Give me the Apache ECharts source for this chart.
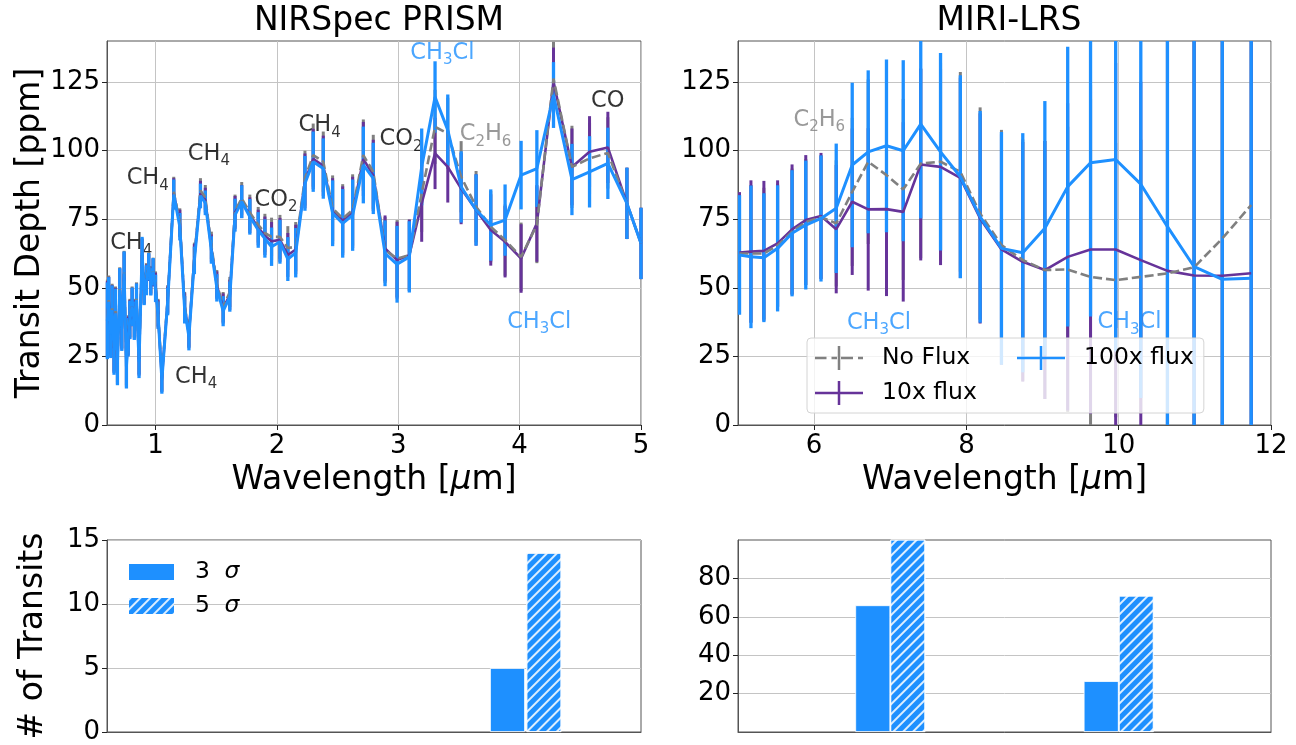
<!DOCTYPE html>
<html><head><meta charset="utf-8">
<script src="https://cdn.jsdelivr.net/npm/echarts@6/dist/echarts.min.js"></script>
<style>html,body{margin:0;padding:0;background:#fff}#c{width:1296px;height:745px}</style>
</head><body><div id="c"></div><script>
// ---------------- DATA ----------------
const prismWl = [0.603,0.614,0.631,0.642,0.658,0.670,0.686,0.705,0.722,0.741,0.760,0.775,0.788,0.807,0.825,0.843,0.864,0.889,0.906,0.925,0.944,0.961,0.980,1.000,1.021,
  1.052,1.100,1.150,1.200,1.240,1.275,1.320,1.370,1.410,1.460,1.505,1.557,1.612,1.655,1.710,1.777,1.846,1.901,1.956,2.025,2.090,2.155,2.231,2.299,2.382,2.459,2.542,2.624,2.712,2.794,2.891,2.990,3.091,3.193,3.303,3.408,3.518,3.641,3.762,3.880,4.012,4.142,4.279,4.431,4.576,4.727,4.884,5.000];
const prism100x = [38,44.9,33.4,41.9,27.3,40.7,22.5,49.2,35,55.3,21.3,32,38.3,43.1,38,45.6,23.1,62.6,49.2,52.8,57.7,52.2,55.9,49.8,40,
  16.4,45,84,72.3,42,32.2,60,83.5,81,63.8,50,41.5,46.8,76.5,81.4,75.9,71.1,68,65,66.8,60.5,62.8,88.1,96,93.5,77.2,73.5,76.5,94.8,89.9,62.6,58.6,61.3,94.1,119.6,107.5,86.8,78.4,72.9,74.7,91.1,93.5,120.3,89.5,92.3,95.4,80.8,66.2];
const prism100xErr = [14,9,9,9,9,9,8,8,8,8,8,7,7,7,7,6,6,6,5.5,5.5,5,5,5,5,5,
  5,5,5.5,5,5,5,5,4.5,4.5,5,5,5.5,5.5,6,6,6.5,6.5,7,7,8,8,9,10,11,11,12,12.5,13,14,13,12,14,13,14,13,13,13,13,13,13,12.5,14,12,13,13,13,13,13];
const prismNoFlux = [39,45.5,34.5,42.5,28.5,41.5,23.5,49.5,36,55.5,22.5,33,39,43.5,39,46,24.5,62,50,53.5,58,53,56,51,41,
  17.5,46,85,74,43.5,33.5,61.5,85.5,83,65.5,51.5,43,48.5,78,82.6,77.5,73,70,68.6,68.6,64.5,65,90,98.4,96,79,75.3,78.4,98.4,92.3,63.8,60.7,61.9,84.4,108.7,106.3,90.5,79.6,72.3,67.4,61.3,73,126.3,94.1,97.2,99.2,80.8,66.2];
const prismNoFluxErr = [14,9,9,9,9,9,8,8,8,8,8,7,7,7,7,6,6,6,5.5,5.5,5,5,5,5,5,
  5,5,5.5,5,5,5,5,4.5,4.5,5,5,5.5,5.5,6,6,6.5,6.5,7,7,8,8,9,10,11.5,11,12,12.5,13,13,13.5,12,14,13,14,13.5,13,13,13,13,13,12.5,14,13.4,15,13,13,13,13];
const prism10x = [38.5,45,34,42,28,41,23,49,35.5,55,22,32.5,38.5,43,38.5,45.5,24,62,49.5,53,57.5,52.5,55.5,50.5,40.5,
  17,45.5,84.5,73.5,43,33,61,84.5,82,64.5,51,42.5,47.5,77.5,81.5,76.5,72,69,67,67.5,62,64,89,97,94.5,78,74.5,77.5,97,91,64.4,60.1,61.9,80.8,99,94.1,86.2,78.4,71.1,66.8,60.7,73.5,125.1,94.1,99.6,101.2,80.8,66.2];
const prism10xErr = [14,9,9,9,9,9,8,8,8,8,8,7,7,7,7,6,6,6,5.5,5.5,5,5,5,5,5,
  5,5,5.5,5,5,5,5,4.5,4.5,5,5,5.5,5.5,6,6,6.5,6.5,7,7,8,8,9,10,11,11,12,12.5,13,13.5,13,12,14,13,14,13,13,13,13,13,13,12.5,14,12.5,14,13,13,13,13];

const miriWl = [5.02,5.17,5.34,5.52,5.71,5.89,6.09,6.29,6.50,6.71,6.95,7.17,7.40,7.66,7.92,8.18,8.46,8.74,9.03,9.33,9.63,9.96,10.29,10.64,10.99,11.36,11.74];
const miri100x = [62.0,61.3,61.0,64.4,69.9,72.9,75.3,79.0,94.8,99.6,101.8,100.0,109.7,99.6,90.5,75.9,64.4,62.8,71.7,86.9,95.6,96.8,87.8,72.3,57.7,53.1,53.5];
const miri100xErr = [21.8,26,23.5,23,23,23.5,23,23.6,30,29.7,31.5,33,34.4,36,37,38.6,42.4,43.6,46.4,51,56,70,78,90,95,100,100];
const miri10x = [62.9,63.2,63.5,66.2,71.3,74.7,76.2,71.4,81.4,78.6,78.7,77.7,95.0,94.1,90.1,75.3,64.0,59.5,56.5,61.3,64.0,64.0,60.1,56.2,54.5,54.4,55.3];
const miri10xErr = [22,26,25.5,23,23.7,23.7,23,23.4,26.7,29.6,31.7,32.7,35,35.8,36.5,38.3,42,43.7,47,56,60,68,65,90,95,100,100];
const miriNoFlux = [62.5,62.5,62.5,65.5,70.5,74,75.8,73.5,85,96.0,91.1,85.9,95.3,96.0,92.3,77.1,65.6,60.1,56.5,56.7,54.0,52.8,54.0,55.3,57.5,68.0,80.2];
const miriNoFluxErr = [21.5,25,24,22.5,23,23,22.5,23,27,30,31.5,33,34.5,36,36.4,38.7,42,44,47,52,65,50,50,90,95,100,100];

// transits needed (bottom panels)
const prismSigma3X = [3.9], prismSigma3 = [5];
const prismSigma5X = [4.2], prismSigma5 = [14];
const miriSigma3X = [6.77, 9.77], miriSigma3 = [66, 26.5];
const miriSigma5X = [7.23, 10.23], miriSigma5 = [118, 71];

// annotations: [text, x, y, color]
const prismNotes = [
  ['CH4',0.626,66.3,'#000'],['CH4',0.762,90,'#000'],['CH4',1.266,98.8,'#000'],['CH4',1.161,17.6,'#000'],
  ['CO2',1.815,82,'#000'],['CH4',2.178,109.3,'#000'],['CO2',2.846,104.2,'#000'],['C2H6',3.506,105.9,'#808080'],
  ['CH3Cl',3.099,135.7,'#1e90ff'],['CO',4.589,118.2,'#000'],['CH3Cl',3.897,37.6,'#1e90ff']];
const miriNotes = [['C2H6',5.728,111.2,'#808080'],['CH3Cl',6.43,37.3,'#1e90ff'],['CH3Cl',9.72,37.4,'#1e90ff']];

const depthTicks = [0,25,50,75,100,125];
const prismXTicks = [1,2,3,4,5];
const miriXTicks = [6,8,10,12];
const miriBarTicks = [20,40,60,80];

// ---------------- CHART ----------------
const FONT = 'DejaVu Sans';
const BLUE = '#1e90ff', PURPLE = '#663399', GRAY = '#808080';
const FRAME = '#555', GRIDC = '#c4c4c4';
const BIG = 33, TICK = 26, LEG = 23.5;

const RICH = {
  m: {fontSize: 22.5, lineHeight: 30, fontFamily: FONT},
  s: {fontSize: 15, lineHeight: 15, padding: [15,0,0,0], fontFamily: FONT}
};
function richLabel(t){
  return t.split(/(\d+)/).filter(s => s).map(s => /^\d+$/.test(s) ? '{s|' + s + '}' : '{m|' + s + '}').join('');
}
function pairs(xs, ys){ return xs.map((x,i) => [x, ys[i]]); }

function errSeries(name, xs, ys, es, color, w, idx){
  return {
    type: 'custom', name: name, xAxisIndex: idx, yAxisIndex: idx, z: 2, silent: true,
    color: color, itemStyle: {color: color},
    data: xs.map((x,i) => [x, ys[i] - es[i], ys[i] + es[i]]),
    encode: {x: 0, y: [1,2]},
    renderItem: function(params, api){
      const a = api.coord([api.value(0), api.value(1)]);
      const b = api.coord([api.value(0), api.value(2)]);
      const cs = params.coordSys;
      const t = cs.y, bt = cs.y + cs.height;
      const y1 = Math.min(Math.max(a[1], t), bt), y2 = Math.min(Math.max(b[1], t), bt);
      return {type: 'line', shape: {x1: a[0], y1: y1, x2: a[0], y2: y2}, style: {stroke: color, lineWidth: w}};
    }
  };
}
function lineSeries(name, xs, ys, color, w, dashed, idx, z){
  return {
    type: 'line', name: name, xAxisIndex: idx, yAxisIndex: idx, z: z, silent: true,
    data: pairs(xs, ys), showSymbol: false, symbol: 'none', color: color,
    itemStyle: {color: color},
    lineStyle: {color: color, width: w, type: dashed ? [9,4] : 'solid'}
  };
}
function noteSeries(list, idx){
  return list.map(n => ({
    type: 'scatter', xAxisIndex: idx, yAxisIndex: idx, silent: true, z: 1, symbolSize: 0,
    data: [[n[1], n[2]]],
    label: {show: true, position: [0,0], align: 'left', verticalAlign: 'middle',
      formatter: richLabel(n[0]), color: n[3], fontFamily: FONT, rich: RICH}
  }));
}
const HATCH = {symbol: 'rect', symbolSize: 1, color: 'rgba(255,255,255,0.85)', dashArrayX: [1,0], dashArrayY: [1.2,5], rotation: -Math.PI/4};
function barSeries(name, xs, ys, idx, hatch){
  return {
    type: 'bar', name: name, xAxisIndex: idx, yAxisIndex: idx, data: pairs(xs, ys),
    barWidth: 35, barGap: '-100%', color: BLUE, silent: true,
    itemStyle: Object.assign({color: BLUE, borderColor: '#fff', borderWidth: 0.8}, hatch ? {decal: HATCH} : {})
  };
}

const tickLbl = {fontFamily: FONT, color: '#000', fontSize: TICK};
function xAx(grid, min, max, ticks, named){
  const o = {type: 'value', gridIndex: grid, min: min, max: max,
    axisLine: {show: true, onZero: false, lineStyle: {color: FRAME}},
    splitLine: {show: !!ticks, lineStyle: {color: GRIDC, width: 1}}};
  if (ticks){
    o.axisTick = {show: true, length: 5, customValues: ticks, lineStyle: {color: '#222'}};
    o.axisLabel = Object.assign({show: true, margin: 8, customValues: ticks}, tickLbl);
  } else {
    o.axisTick = {show: false}; o.axisLabel = {show: false};
  }
  if (named){
    o.name = 'Wavelength [{i|\u03bc}m]'; o.nameLocation = 'middle'; o.nameGap = 37;
    o.nameTextStyle = {fontFamily: FONT, fontSize: BIG, color: '#000', rich: {i: {fontFamily: FONT, fontSize: BIG, fontStyle: 'italic', color: '#000'}}};
  }
  return o;
}
function yAx(grid, min, max, opts){
  const o = {type: 'value', gridIndex: grid, min: min, max: max,
    axisLine: {show: true, lineStyle: {color: FRAME}},
    axisTick: {show: true, length: 5, lineStyle: {color: '#222'}},
    axisLabel: Object.assign({margin: 7}, tickLbl),
    splitLine: {show: true, lineStyle: {color: GRIDC, width: 1}}};
  if (opts.ticks){ o.axisTick.customValues = opts.ticks; o.axisLabel.customValues = opts.ticks; }
  if (opts.interval){ o.interval = opts.interval; }
  if (opts.fontSize){ o.axisLabel.fontSize = opts.fontSize; }
  if (opts.name){
    o.name = opts.name; o.nameLocation = 'middle'; o.nameGap = opts.gap; o.nameRotate = 90;
    o.nameTextStyle = {fontFamily: FONT, fontSize: BIG, color: '#000'};
  }
  return o;
}

const iconSolid = 'path://M0,10.75L48,10.75L48,13.25L0,13.25Z M22.75,0L25.25,0L25.25,24L22.75,24Z';
const iconDashed = 'path://M0,10.75L11.5,10.75L11.5,13.25L0,13.25Z M16.5,10.75L22,10.75L22,13.25L16.5,13.25Z M22.75,0L25.25,0L25.25,24L22.75,24Z M26,10.75L38,10.75L38,13.25L26,13.25Z M43,10.75L48,10.75L48,13.25L43,13.25Z';

const series = [].concat(
  [
    errSeries('No Flux', prismWl, prismNoFlux, prismNoFluxErr, GRAY, 3, 0),
    errSeries('10x flux', prismWl, prism10x, prism10xErr, PURPLE, 3, 0),
    errSeries('100x flux', prismWl, prism100x, prism100xErr, BLUE, 3.3, 0),
    lineSeries('10x flux', prismWl, prism10x, PURPLE, 2.6, false, 0, 3),
    lineSeries('No Flux', prismWl, prismNoFlux, GRAY, 2.6, true, 0, 3),
    lineSeries('100x flux', prismWl, prism100x, BLUE, 3, false, 0, 3),
    errSeries('No Flux', miriWl, miriNoFlux, miriNoFluxErr, GRAY, 3, 1),
    errSeries('10x flux', miriWl, miri10x, miri10xErr, PURPLE, 3, 1),
    errSeries('100x flux', miriWl, miri100x, miri100xErr, BLUE, 3.3, 1),
    lineSeries('10x flux', miriWl, miri10x, PURPLE, 2.6, false, 1, 3),
    lineSeries('No Flux', miriWl, miriNoFlux, GRAY, 2.6, true, 1, 3),
    lineSeries('100x flux', miriWl, miri100x, BLUE, 3, false, 1, 3),
    barSeries('3 \u03c3', prismSigma3X, prismSigma3, 2, false),
    barSeries('5 \u03c3', prismSigma5X, prismSigma5, 2, true),
    barSeries('3 \u03c3', miriSigma3X, miriSigma3, 3, false),
    barSeries('5 \u03c3', miriSigma5X, miriSigma5, 3, true)
  ],
  noteSeries(prismNotes, 0), noteSeries(miriNotes, 1));

const option = {
  animation: false,
  backgroundColor: '#fff',
  title: [
    {text: 'NIRSpec PRISM', left: 374, top: 0, textAlign: 'center', textStyle: {fontFamily: FONT, fontSize: BIG, fontWeight: 'normal', color: '#000'}},
    {text: 'MIRI-LRS', left: 1004, top: 0, textAlign: 'center', textStyle: {fontFamily: FONT, fontSize: BIG, fontWeight: 'normal', color: '#000'}}
  ],
  grid: [
    {left: 107, top: 41, width: 534, height: 384, show: true, borderColor: FRAME, borderWidth: 1},
    {left: 738, top: 41, width: 533, height: 384, show: true, borderColor: FRAME, borderWidth: 1},
    {left: 107, top: 540, width: 534, height: 192, show: true, borderColor: FRAME, borderWidth: 1},
    {left: 738, top: 540, width: 533, height: 192, show: true, borderColor: FRAME, borderWidth: 1}
  ],
  xAxis: [
    xAx(0, 0.6, 5, prismXTicks, true),
    xAx(1, 5, 12, miriXTicks, true),
    xAx(2, 0.6, 5, null, false),
    xAx(3, 5, 12, null, false)
  ],
  yAxis: [
    yAx(0, 0, 140, {ticks: depthTicks, name: 'Transit Depth [ppm]', gap: 57}),
    yAx(1, 0, 140, {ticks: depthTicks}),
    yAx(2, 0, 15, {interval: 5, name: '# of Transits', gap: 57}),
    yAx(3, 0, 100, {ticks: miriBarTicks})
  ],
  legend: [
    {
      data: [{name: 'No Flux', icon: iconDashed}, {name: '100x flux', icon: iconSolid}, {name: '10x flux', icon: iconSolid}],
      left: 807, top: 338, width: 380, orient: 'horizontal', itemWidth: 48, itemHeight: 24, itemGap: 11,
      padding: [8, 10, 8, 8], backgroundColor: 'rgba(255,255,255,0.8)', borderColor: '#d4d4d4', borderWidth: 1, borderRadius: 4,
      selectedMode: false, itemStyle: {borderWidth: 0}, lineStyle: {width: 0}, z: 10,
      formatter: function(n){ return n === '100x flux' ? '{b|' + n + '}' : '{a|' + n + '}'; },
      textStyle: {fontFamily: FONT, fontSize: LEG, color: '#000',
        rich: {a: {fontFamily: FONT, fontSize: LEG, width: 124, padding: [0,0,0,14], lineHeight: 24},
               b: {fontFamily: FONT, fontSize: LEG, padding: [0,0,0,14], lineHeight: 24}}}
    },
    {
      data: ['3 \u03c3', '5 \u03c3'], icon: 'rect',
      left: 129, top: 560, orient: 'vertical', itemWidth: 45, itemHeight: 16, itemGap: 10, padding: 0,
      selectedMode: false, itemStyle: {borderWidth: 0},
      formatter: function(n){ return '{n|' + n.split(' ')[0] + ' }{i|\u03c3}'; },
      textStyle: {fontFamily: FONT, fontSize: LEG, color: '#000',
        rich: {n: {fontFamily: FONT, fontSize: LEG, padding: [0,0,0,16], lineHeight: 24},
               i: {fontFamily: FONT, fontSize: LEG, fontStyle: 'italic', lineHeight: 24, padding: [0,0,0,7]}}}
    }
  ],
  series: series
};
const chart = echarts.init(document.getElementById('c'));
chart.setOption(option);
</script></body></html>
